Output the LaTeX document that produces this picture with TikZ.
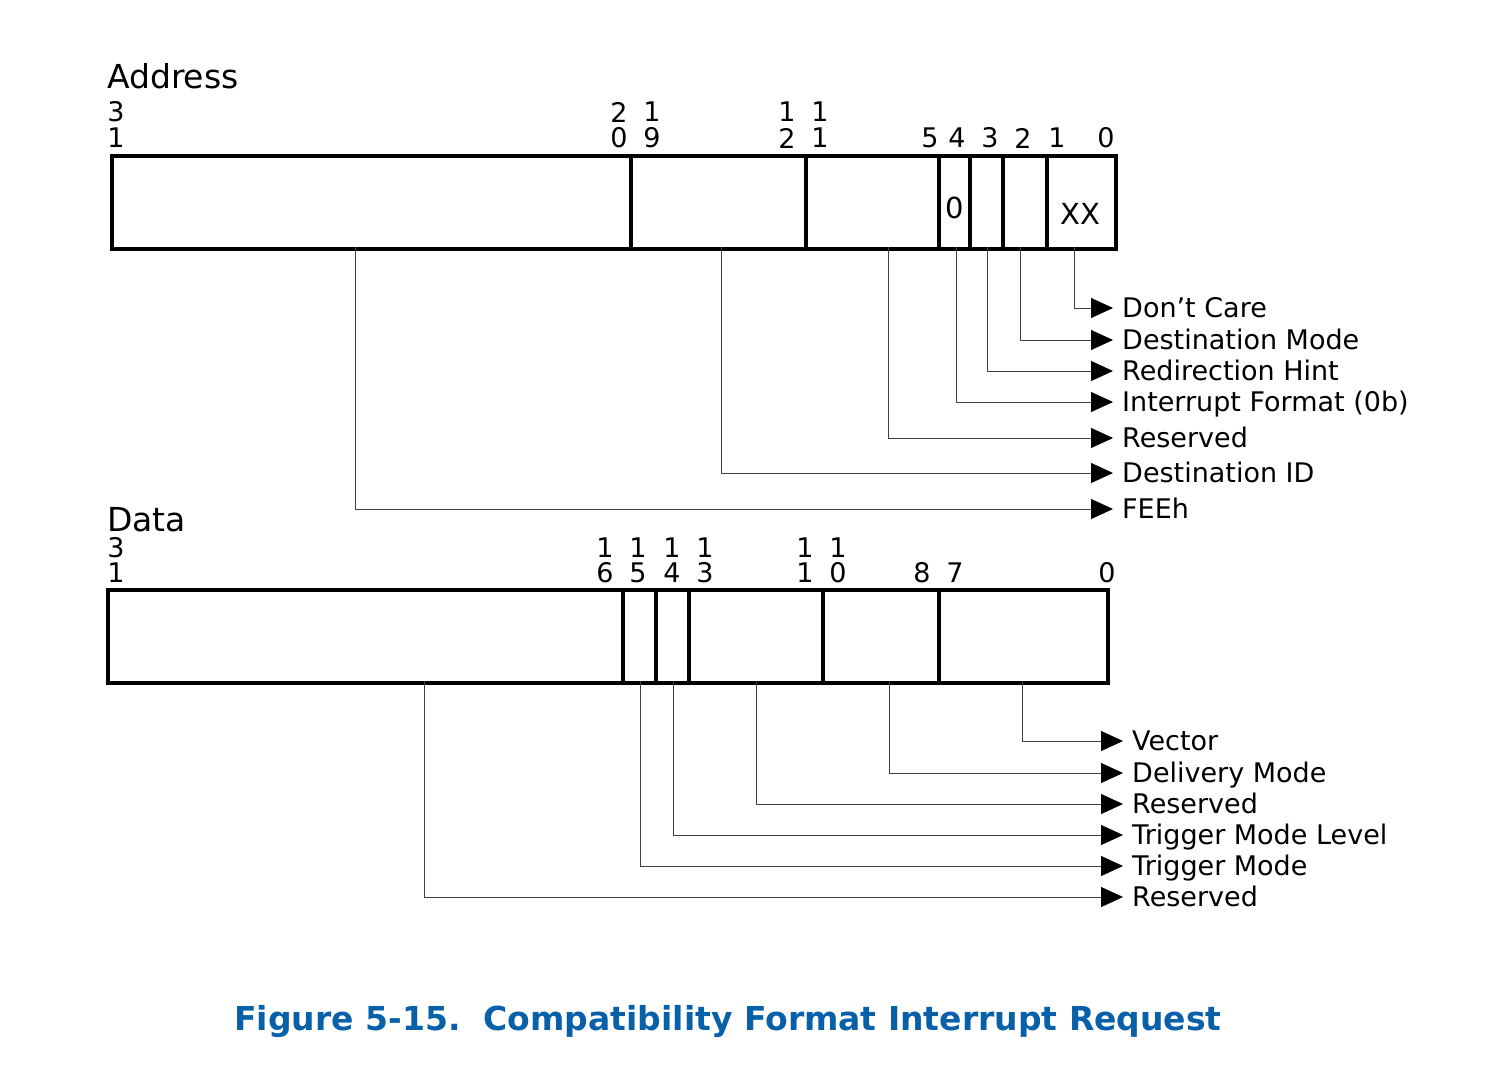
\documentclass[tikz,border=0pt]{standalone}
\usepackage{fontspec}
\setmainfont{DejaVu Sans}
\usetikzlibrary{arrows.meta}
\definecolor{titleblue}{HTML}{0860A8}
\begin{document}
\begin{tikzpicture}[x=1pt,y=-1pt,
  bitnum/.style={font=\fontsize{27}{27}\selectfont, inner sep=0pt},
  heading/.style={font=\fontsize{33}{33}\selectfont, anchor=base west, inner sep=0pt},
  field/.style={draw, line width=4.2pt},
  divider/.style={line width=4.2pt},
  lead/.style={draw=black!75, line width=1pt, -{Triangle[length=22pt,width=20pt,black]}},
  desc/.style={font=\fontsize{27}{27}\selectfont, anchor=west, inner xsep=9pt, inner ysep=0pt, text height=19.7pt, text depth=0pt}
]
\useasboundingbox (0,0) rectangle (1490,1074);

% ---------------- Address ----------------
\node[heading] (addrhead) at (107,88) {Address};
\node[field, anchor=north west, minimum width=1004pt, minimum height=93pt, inner sep=0pt] (addrbox) at (110,154) {};
\foreach \x [count=\i] in {631,806,939,970,1003,1047}
  \draw[divider] (\x,154) coordinate (adt\i) -- (\x,247) coordinate (adb\i);
\foreach \x/\t/\b [count=\i] in {116/3/1, 619/2/0, 652/1/9, 787/1/2, 820/1/1} {
  \node[bitnum] (abt\i) at (\x,112) {\t};
  \node[bitnum] (abb\i) at (\x,138) {\b};
}
\foreach \x/\b [count=\i] in {930/5, 957/4, 990/3, 1023/2, 1057/1, 1106/0}
  \node[bitnum] (abs\i) at (\x,138) {\b};
\node[bitnum, font=\fontsize{29}{29}\selectfont] (zerofield) at (955,208) {0};
\node[bitnum, font=\fontsize{29}{29}\selectfont] (xxfield) at (1080,214) {XX};

\foreach \x/\y/\t [count=\i] in {1074/308/Don't Care, 1020/340/Destination Mode, 987/371/Redirection Hint, 956/402/Interrupt Format (0b), 888/438/Reserved, 721/473/Destination ID, 355/509/FEEh} {
  \coordinate (ac\i) at (\x,247);
  \node[desc] (al\i) at (1113,\y) {\t};
  \draw[lead] (ac\i) |- (al\i.west);
}

% ---------------- Data ----------------
\node[heading] (datahead) at (107,531) {Data};
\node[field, anchor=north west, minimum width=1000pt, minimum height=93pt, inner sep=0pt] (databox) at (106,588) {};
\foreach \x [count=\i] in {623,656,689,823,939}
  \draw[divider] (\x,588) coordinate (ddt\i) -- (\x,681) coordinate (ddb\i);
\foreach \x/\t/\b [count=\i] in {116/3/1, 605/1/6, 638/1/5, 672/1/4, 705/1/3, 805/1/1, 838/1/0} {
  \node[bitnum] (dbt\i) at (\x,548) {\t};
  \node[bitnum] (dbb\i) at (\x,573) {\b};
}
\foreach \x/\b [count=\i] in {922/8, 955/7, 1107/0}
  \node[bitnum] (dbs\i) at (\x,573) {\b};

\foreach \x/\y/\t [count=\i] in {1022/741/Vector, 889/773/Delivery Mode, 756/804/Reserved, 673/835/Trigger Mode Level, 640/866/Trigger Mode, 424/897/Reserved} {
  \coordinate (dc\i) at (\x,681);
  \node[desc] (dl\i) at (1123,\y) {\t};
  \draw[lead] (dc\i) |- (dl\i.west);
}

% ---------------- Caption ----------------
\node[font=\fontsize{33}{33}\selectfont\bfseries, text=titleblue, inner sep=0pt] (caption) at (728,1022) {Figure 5-15.\ \ Compatibility Format Interrupt Request};
\end{tikzpicture}
\end{document}
